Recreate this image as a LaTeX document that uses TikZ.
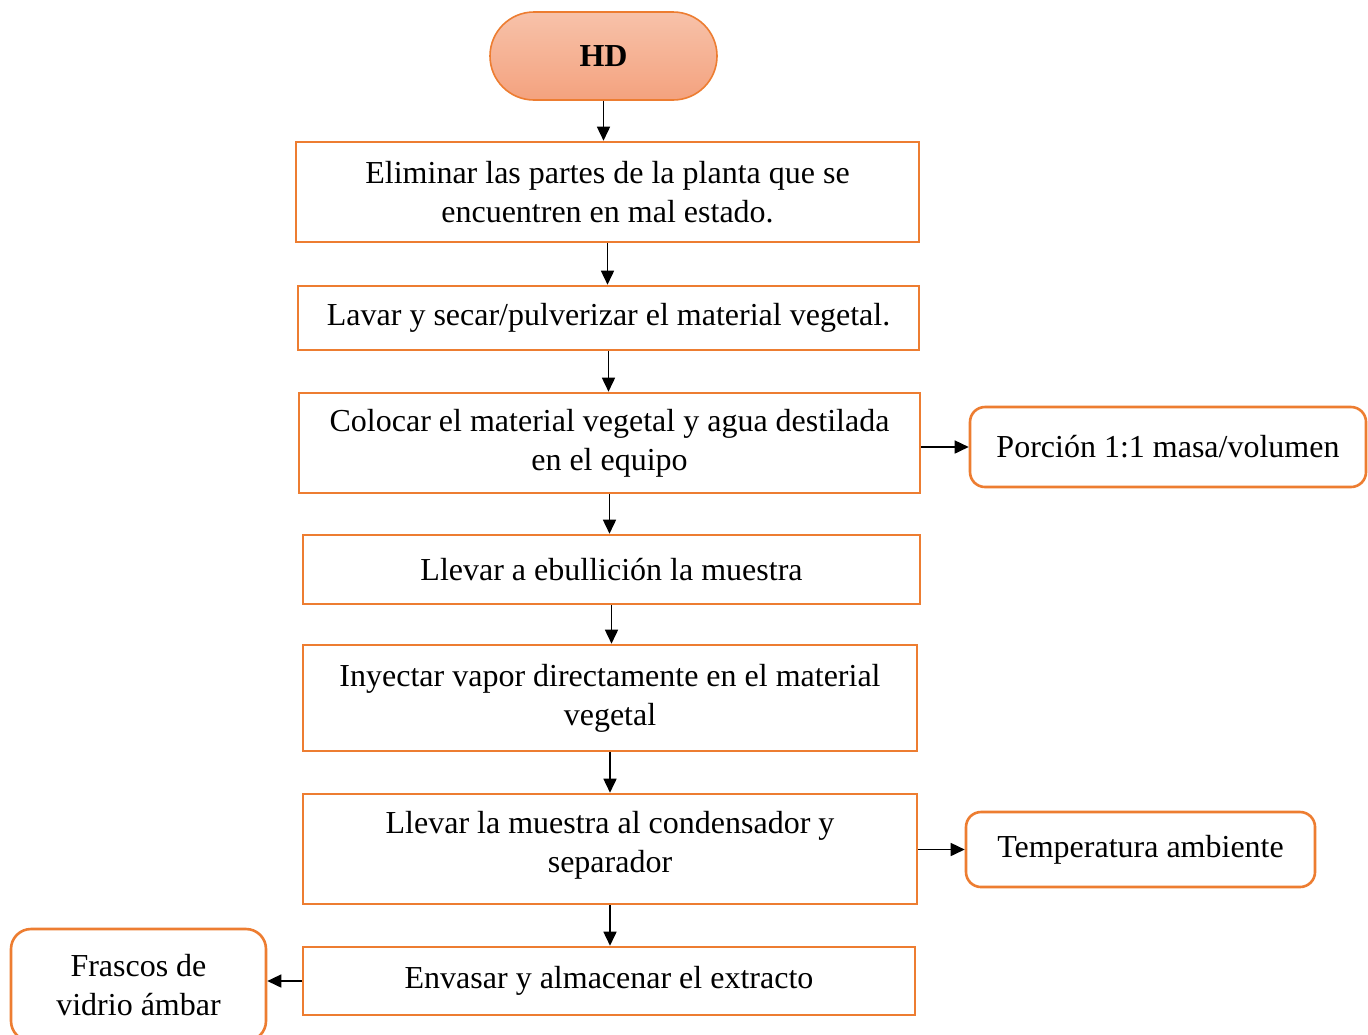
\documentclass[tikz,border=0pt]{standalone}
\usepackage{fontspec}
\setmainfont{Liberation Serif}
\usetikzlibrary{arrows.meta,shapes.misc}
\definecolor{boxline}{HTML}{ED7D31}
\definecolor{hdtop}{HTML}{F7C2AA}
\definecolor{hdbot}{HTML}{F4A27E}
\begin{document}
\begin{tikzpicture}[x=0.5pt,y=-0.5pt,
  every node/.style={font=\fontsize{16}{19.5}\selectfont, align=center, inner sep=0pt},
  stepbox/.style={draw=boxline, line width=1.3pt, rectangle},
  notebox/.style={draw=boxline, line width=1.3pt, rectangle, rounded corners=7.5pt},
  startbox/.style={draw=boxline, line width=0.8pt, rounded rectangle, top color=hdtop, bottom color=hdbot},
  flow/.style={line width=0.8pt, -{Triangle[length=7pt,width=6.5pt]}}]
  \clip (0,0) rectangle (1368,1034);
  \fill[white] (0,0) rectangle (1368,1034);

  % main column
  \node[startbox, minimum width=113.5pt, minimum height=44pt] (hd) at (603.5,56) {\bfseries HD};
  \node[stepbox, minimum width=311.5pt, minimum height=50pt] (b1) at (607.5,192)
    {Eliminar las partes de la planta que se\\encuentren en mal estado.};
  \node[stepbox, minimum width=310.5pt, minimum height=32pt] (b2) at (608.5,318)
    {Lavar y secar/pulverizar el material vegetal.};
  \node[stepbox, minimum width=310.5pt, minimum height=50pt] (b3) at (609.5,443)
    {Colocar el material vegetal y agua destilada\\en el equipo};
  \node[stepbox, minimum width=308.5pt, minimum height=34.5pt] (b4) at (611.5,569.5)
    {Llevar a ebullición la muestra};
  \node[stepbox, minimum width=307pt, minimum height=53pt] (b5) at (610,698)
    {Inyectar vapor directamente en el material\\vegetal};
  \node[stepbox, minimum width=307pt, minimum height=55pt] (b6) at (610,849) {};
  \node at (610,845) {Llevar la muestra al condensador y\\separador};
  \node[stepbox, minimum width=306pt, minimum height=34pt] (b7) at (609,981)
    {Envasar y almacenar el extracto};

  % side notes
  \node[notebox, minimum width=198pt, minimum height=40pt] (r1) at (1168,447)
    {Porción 1:1 masa/volumen};
  \node[notebox, minimum width=174.5pt, minimum height=37.5pt] (r2) at (1140.5,849.5)
    {Temperatura ambiente};
  \node[notebox, rounded corners=10pt, minimum width=127.5pt, minimum height=56pt] (lb) at (138.5,985)
    {Frascos de\\vidrio ámbar};

  % connectors
  \draw[flow] (hd.south) -- (hd.south |- b1.north);
  \draw[flow] (b1.south) -- (b1.south |- b2.north);
  \draw[flow] (b2.south) -- (b2.south |- b3.north);
  \draw[flow] (b3.south) -- (b3.south |- b4.north);
  \draw[flow] (b4.south) -- (b4.south |- b5.north);
  \draw[flow] (b5.south) -- (b5.south |- b6.north);
  \draw[flow] (b6.south) -- (b6.south |- b7.north);
  \draw[flow] (r1.west -| b3.east) -- (r1.west);
  \draw[flow] (r2.west -| b6.east) -- (r2.west);
  \draw[flow] (b7.west) -- (b7.west -| lb.east);
\end{tikzpicture}
\end{document}
